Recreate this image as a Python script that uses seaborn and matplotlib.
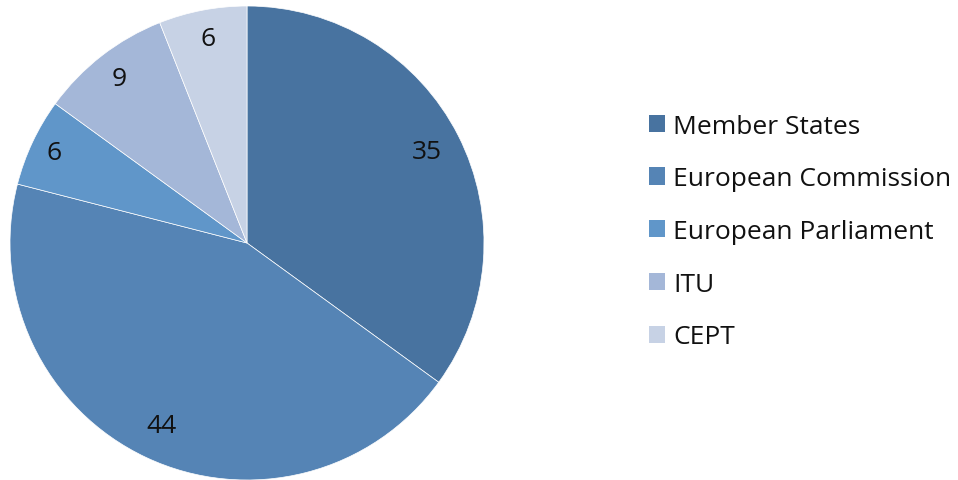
import matplotlib
matplotlib.use("Agg")
import matplotlib.pyplot as plt
import seaborn as sns
import numpy as np
from matplotlib.patches import Patch

categories = ["Member States", "European Commission", "European Parliament", "ITU", "CEPT"]
values = [35, 44, 6, 9, 6]
colors = ["#4873A0", "#5584B5", "#6096C9", "#A4B7D8", "#C7D2E5"]
label_dist = [0.85, 0.85, 0.90, 0.88, 0.88]

sns.set_theme(style="white")
plt.rcParams["font.family"] = ["Open Sans", "DejaVu Sans"]

W, H = 958, 481
fig = plt.figure(figsize=(W / 100, H / 100), dpi=100)
cx, cy, r = 247, 244, 237
ax = fig.add_axes([(cx - r) / W, (H - cy - r) / H, 2 * r / W, 2 * r / H])
wedges, texts = ax.pie(values, colors=colors, startangle=90, counterclock=False,
                       labels=[str(v) for v in values], labeldistance=0.87,
                       wedgeprops=dict(edgecolor="white", linewidth=0.5),
                       textprops=dict(fontsize=19, color="#111111"))
for w, t, d in zip(wedges, texts, label_dist):
    ang = np.deg2rad((w.theta1 + w.theta2) / 2)
    t.set_position((d * np.cos(ang), d * np.sin(ang)))
    t.set_horizontalalignment("center")
    t.set_verticalalignment("center")
ax.set_xlim(-1, 1)
ax.set_ylim(-1, 1)
ax.set_aspect("equal")

handles = [Patch(facecolor=c, edgecolor="none") for c in colors]
leg = fig.legend(handles, categories, loc="center left", bbox_to_anchor=(649 / W, 1 - 232.5 / H),
                 frameon=False, fontsize=19, handlelength=0.62, handleheight=0.62,
                 handletextpad=0.3, labelspacing=1.05, borderpad=0, borderaxespad=0)
for t in leg.get_texts():
    t.set_color("#111111")

fig.savefig("out.png", dpi=100)
